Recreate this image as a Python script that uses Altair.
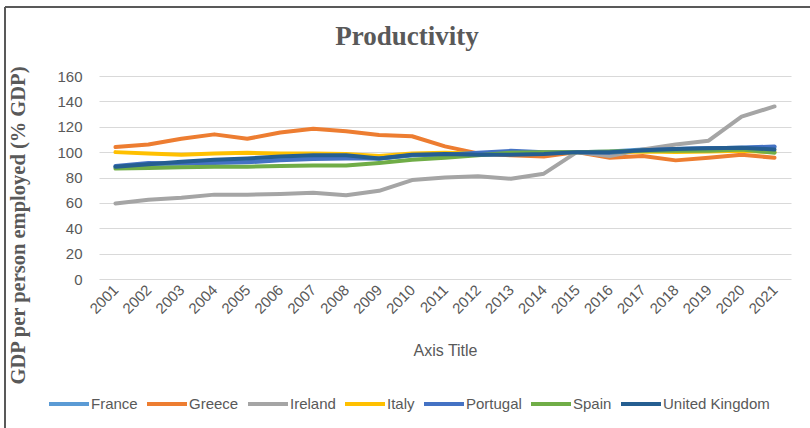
import altair as alt
import pandas as pd

years = [str(y) for y in range(2001, 2022)]
countries = ["France", "Greece", "Ireland", "Italy", "Portugal", "Spain", "United Kingdom"]
colors = ["#5B9BD5", "#ED7D31", "#A5A5A5", "#FFC000", "#4472C4", "#70AD47", "#255E91"]

france = [88, 90, 91, 92, 93, 94.5, 95.5, 96, 95, 97.5, 98, 98, 99, 99.5, 100, 100.5, 102, 102.5, 103, 103.5, 104]
greece = [104, 106, 110.5, 114, 110.5, 115.5, 118.5, 116.5, 113.5, 112.5, 104.5, 99, 97.5, 96.5, 100, 95.5, 97, 93.5, 95.5, 98, 95.5]
ireland = [59.5, 62.5, 64, 66.5, 66.5, 67, 68, 66, 69.5, 78, 80, 81, 79, 83, 100, 97, 102, 106, 109, 128, 136]
italy = [100, 99, 98, 99, 99.5, 99, 99, 98.5, 97, 99, 99.5, 99, 99, 99.5, 100, 100, 100.5, 100, 100.5, 101, 100]
portugal = [89, 91.5, 91, 91.5, 92, 93.5, 94.5, 95, 95, 97.5, 98, 99.5, 101, 100, 100, 99.5, 101.5, 102.5, 103, 103.5, 104.5]
spain = [87, 87.5, 88, 88.5, 88.5, 89, 89.5, 89.5, 91.5, 94, 95.5, 97.5, 99.5, 100, 100, 100.5, 101, 101, 101, 102, 99.5]
uk = [88.5, 90.5, 92.5, 94, 95, 96.5, 97.5, 97.5, 95, 98, 98.5, 98, 98, 98.5, 100, 100, 101.5, 102.5, 103, 103.5, 102]
y_ticks = [0, 20, 40, 60, 80, 100, 120, 140, 160]

series = [france, greece, ireland, italy, portugal, spain, uk]
rows = []
for c, vals in zip(countries, series):
    for y, v in zip(years, vals):
        rows.append({"Year": y, "Country": c, "Value": v})
df = pd.DataFrame(rows)

W, H = 692, 203
L, T = 99, 76

lines = alt.Chart(df).mark_line(strokeWidth=4, strokeJoin="round", strokeCap="round").encode(
    x=alt.X("Year:O", sort=years,
            scale=alt.Scale(type="point", padding=0.5),
            axis=alt.Axis(labelAngle=-45, labelAlign="right", labelBaseline="middle",
                          labelPadding=8, ticks=False, domain=False, grid=False,
                          labelFont="Liberation Sans", labelFontSize=15, labelColor="#595959",
                          title="Axis Title", titleFont="Liberation Sans", titleFontSize=16,
                          titleFontWeight="normal", titleColor="#595959",
                          titleX=W / 2, titleY=71, titleBaseline="middle", titleAlign="center")),
    y=alt.Y("Value:Q", scale=alt.Scale(domain=[0, 160], nice=False, zero=True),
            axis=alt.Axis(values=y_ticks, grid=True, gridColor="#D9D9D9", gridWidth=1,
                          ticks=False, domain=False, labelPadding=17,
                          labelFont="Liberation Sans", labelFontSize=15, labelColor="#595959",
                          title="GDP per person employed (% GDP)", titleFont="Liberation Serif",
                          titleFontSize=20.5, titleFontWeight="bold", titleColor="#595959",
                          titleX=18 - L, titleY=225 - T, titleAngle=270,
                          titleAlign="center", titleBaseline="middle")),
    color=alt.Color("Country:N", sort=countries,
                    scale=alt.Scale(domain=countries, range=colors),
                    legend=alt.Legend(orient="none", legendX=47 - L, legendY=402 - T - 20,
                                      direction="horizontal", symbolType="stroke",
                                      symbolSize=1600, symbolStrokeWidth=4,
                                      labelFont="Liberation Sans", labelFontSize=15,
                                      labelColor="#595959", labelOffset=0, columnPadding=1,
                                      title=None, padding=0)),
)

border_top = alt.Chart(df).mark_rule(color="#595959", strokeWidth=2).encode(
    x=alt.value(5 - L), x2=alt.value(810 - L + 5), y=alt.value(7 - T))
border_left = alt.Chart(df).mark_rule(color="#595959", strokeWidth=2).encode(
    x=alt.value(5 - L), y=alt.value(7 - T), y2=alt.value(428 - T + 5))

chart = alt.layer(border_top, border_left, lines).properties(
    width=W, height=H,
    autosize=alt.AutoSizeParams(type="none"),
    padding={"left": L, "top": T, "right": 810 - L - W, "bottom": 428 - T - H},
    background="white",
    title=alt.Title("Productivity", font="Liberation Serif", fontSize=27, fontWeight="bold",
                    color="#595959", anchor="middle", frame="group", dx=-38, dy=88,
                    baseline="alphabetic", offset=22),
).configure_view(stroke=None)

chart.save("out.html", embed_options={"renderer": "svg", "actions": False})
